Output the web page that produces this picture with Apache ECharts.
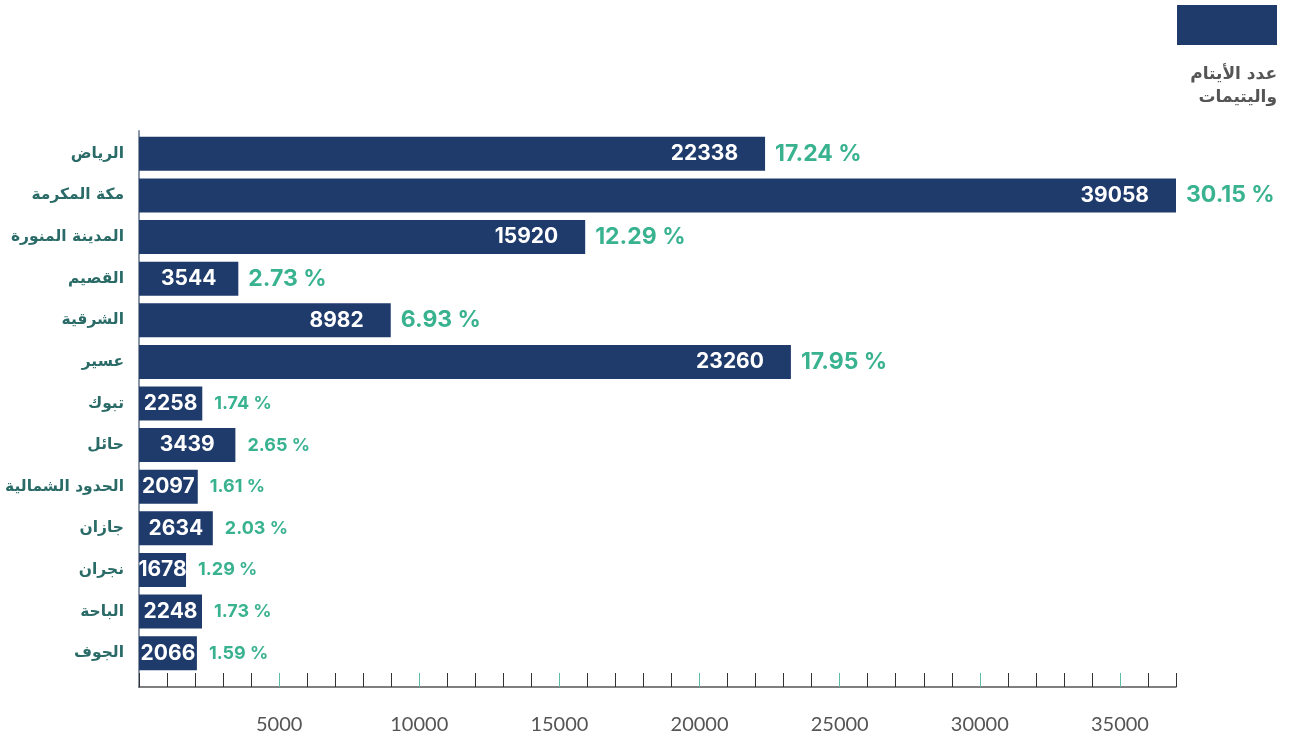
<!DOCTYPE html>
<html>
<head>
<meta charset="utf-8">
<script src="https://cdn.jsdelivr.net/npm/echarts@6/dist/echarts.min.js"></script>
<style>
  html, body { margin: 0; padding: 0; background: #fff; }
  #chart { width: 1291px; height: 740px; }
</style>
</head>
<body>
<div id="chart"></div>
<script>
// البيانات
const regions = ['الرياض', 'مكة المكرمة', 'المدينة المنورة', 'القصيم', 'الشرقية', 'عسير', 'تبوك', 'حائل', 'الحدود الشمالية', 'جازان', 'نجران', 'الباحة', 'الجوف'];
const orphans = [22338, 39058, 15920, 3544, 8982, 23260, 2258, 3439, 2097, 2634, 1678, 2248, 2066];
const shares = [17.24, 30.15, 12.29, 2.73, 6.93, 17.95, 1.74, 2.65, 1.61, 2.03, 1.29, 1.73, 1.59];
const majorTicks = [5000, 10000, 15000, 20000, 25000, 30000, 35000];
const seriesName = 'عدد الأيتام واليتيمات';

const navy = '#1f3b6c';
const teal = '#39b290';
const axisMax = 37000;

const myChart = echarts.init(document.getElementById('chart'));

// الأرقام داخل الأعمدة
const valueData = orphans.map((v, i) => ({
  value: v,
  label: {
    position: v < 5000 ? 'inside' : 'insideRight',
    distance: 27
  }
}));

// النسب بعد الأعمدة
const shareData = orphans.map((v, i) => ({
  value: v,
  label: {
    formatter: shares[i].toFixed(2) + ' %',
    fontSize: i < 6 ? 23 : 18,
    distance: i < 6 ? 10 : 12
  }
}));

const option = {
  animation: false,
  legend: {
    data: [{ name: seriesName, icon: 'rect' }],
    right: 9,
    top: 0,
    itemWidth: 100,
    itemHeight: 40,
    selectedMode: false,
    formatter: () => ''
  },
  title: {
    text: 'عدد الأيتام\nواليتيمات',
    left: 'right',
    top: 58,
    padding: [5, 14, 5, 5],
    textStyle: {
      fontFamily: 'DejaVu Sans',
      fontSize: 17,
      fontWeight: 'bold',
      color: '#555',
      lineHeight: 23
    }
  },
  grid: [
    { left: 139, top: 133, width: 1037, height: 541 },
    { left: 139, top: 131, width: 1037, height: 556 }
  ],
  xAxis: [
    { gridIndex: 0, type: 'value', min: 0, max: axisMax, show: false },
    {
      gridIndex: 1, type: 'value', min: 0, max: axisMax, interval: 1000,
      position: 'bottom',
      axisLine: { show: true, lineStyle: { color: '#555', width: 1.5 } },
      axisTick: { show: true, inside: true, length: 14, lineStyle: { color: '#333', width: 1 } },
      axisLabel: { show: false },
      splitLine: { show: false }
    },
    {
      gridIndex: 1, type: 'value', min: 0, max: axisMax,
      position: 'bottom',
      axisLine: { show: false },
      axisTick: { show: true, inside: true, length: 14, customValues: majorTicks, lineStyle: { color: '#5cc0a8', width: 1 } },
      axisLabel: {
        show: true, customValues: majorTicks, margin: 28,
        formatter: v => String(v),
        fontFamily: 'Lato', fontSize: 20, color: '#555'
      },
      splitLine: { show: false }
    }
  ],
  yAxis: [
    {
      gridIndex: 0, type: 'category', data: regions, inverse: true,
      axisLine: { show: false },
      axisTick: { show: false },
      axisLabel: {
        margin: 15, fontFamily: 'DejaVu Sans', fontSize: 15.5, fontWeight: 'bold', color: '#2a6b68'
      }
    },
    {
      gridIndex: 1, type: 'value', min: 0, max: 1,
      axisLine: { show: true, lineStyle: { color: '#8b95a8', width: 2 } },
      axisTick: { show: false },
      axisLabel: { show: false },
      splitLine: { show: false }
    }
  ],
  series: [
    {
      name: seriesName,
      type: 'bar',
      xAxisIndex: 0,
      yAxisIndex: 0,
      barWidth: 34,
      itemStyle: { color: navy },
      label: {
        show: true,
        color: '#fff',
        fontFamily: 'Inter',
        fontWeight: 'bold',
        fontSize: 21
      },
      data: valueData
    },
    {
      name: 'share',
      type: 'bar',
      xAxisIndex: 0,
      yAxisIndex: 0,
      barWidth: 34,
      barGap: '-100%',
      itemStyle: { color: 'rgba(0,0,0,0)' },
      label: {
        show: true,
        position: 'right',
        color: teal,
        fontFamily: 'Inter',
        fontWeight: 'bold'
      },
      z: 3,
      data: shareData
    }
  ]
};

myChart.setOption(option);
</script>
</body>
</html>
